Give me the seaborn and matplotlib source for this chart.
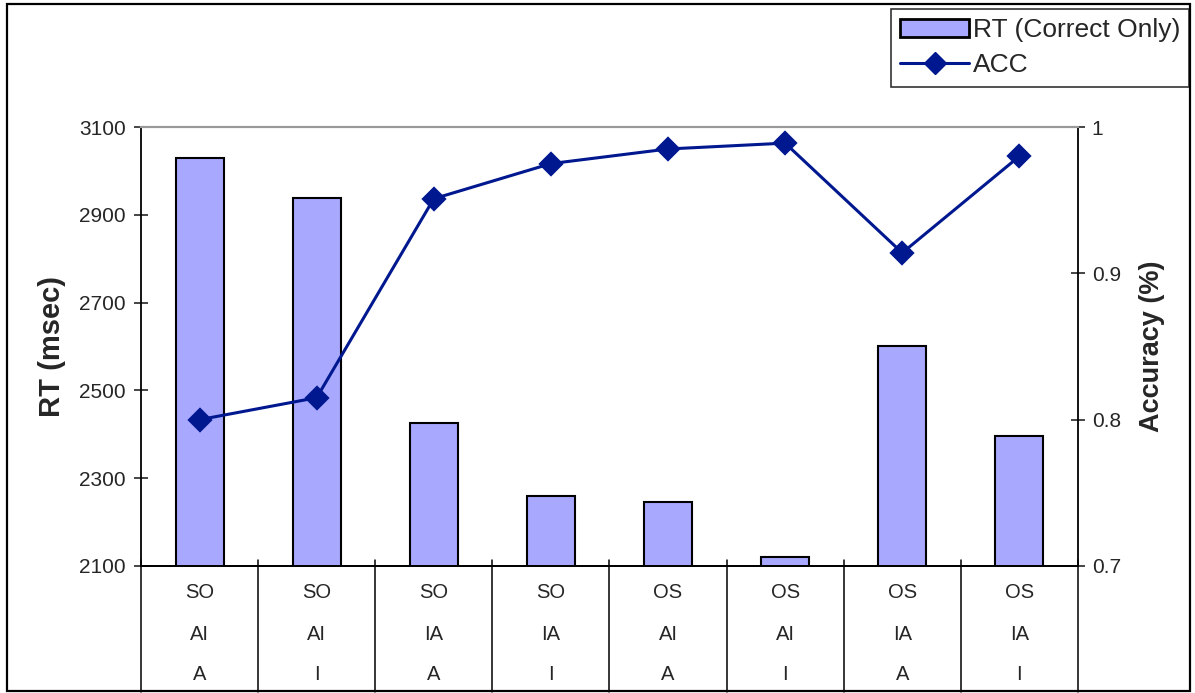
import numpy as np
import pandas as pd
import matplotlib
matplotlib.use("Agg")
import matplotlib.pyplot as plt
import seaborn as sns
from matplotlib.patches import Patch, Rectangle
from matplotlib.lines import Line2D
import matplotlib.transforms as mtransforms

# data
order_lbl = ["SO", "SO", "SO", "SO", "OS", "OS", "OS", "OS"]
type_lbl = ["AI", "AI", "IA", "IA", "AI", "AI", "IA", "IA"]
resp_lbl = ["A", "I", "A", "I", "A", "I", "A", "I"]
rt_ms = [3029, 2938, 2426, 2260, 2246, 2120, 2601, 2396]
acc = [0.800, 0.815, 0.951, 0.975, 0.985, 0.989, 0.914, 0.980]

rt_ticks = [2100, 2300, 2500, 2700, 2900, 3100]
acc_ticks = [0.7, 0.8, 0.9, 1.0]
acc_tick_lbl = ["0.7", "0.8", "0.9", "1"]

bar_color = "#A8A8FF"
line_color = "#00188F"

df = pd.DataFrame({
    "cond": ["-".join(t) for t in zip(order_lbl, type_lbl, resp_lbl)],
    "rt": rt_ms,
    "acc": acc,
})

sns.set_style("white")
plt.rcParams["font.family"] = ["Liberation Sans", "DejaVu Sans"]

fig = plt.figure(figsize=(11.95, 6.93), dpi=100)
ax = fig.add_axes([0.118, 0.1833, 0.784, 0.6334])

sns.barplot(data=df, x="cond", y="rt", ax=ax, color=bar_color, width=0.41,
            edgecolor="black", linewidth=1.5, saturation=1)
ax.set_ylim(2100, 3100)
ax.set_yticks(rt_ticks)
ax.set_xlim(-0.5, len(df) - 0.5)

ax2 = ax.twinx()
sns.pointplot(data=df, x="cond", y="acc", ax=ax2, color=line_color,
              markers="D", markersize=11, linewidth=2.2)
ax2.set_ylim(0.7, 1.0)
ax2.set_yticks(acc_ticks)
ax2.set_yticklabels(acc_tick_lbl)
ax2.set_xlim(-0.5, len(df) - 0.5)

# axis look
for a in (ax, ax2):
    for s in a.spines.values():
        s.set_color("black")
        s.set_linewidth(1.3)
    a.spines["top"].set_color("#999999")
    a.spines["top"].set_linewidth(1.5)
    a.set_xlabel("")
    a.tick_params(axis="x", length=0, labelbottom=False)
ax2.spines["left"].set_visible(False)
ax.spines["right"].set_visible(False)

ax.tick_params(axis="y", direction="inout", length=10, width=1.2, pad=6, labelsize=15)
ax2.tick_params(axis="y", direction="inout", length=10, width=1.2, pad=5, labelsize=15)

ax.set_ylabel("RT (msec)", fontsize=21, fontweight="bold")
ax.yaxis.set_label_coords(-0.080, 0.5)
ax2.set_ylabel("Accuracy (%)", fontsize=19.5, fontweight="bold", rotation=90)
ax2.yaxis.set_label_coords(1.065, 0.5)

# multi-level category labels below the axis
trans = mtransforms.blended_transform_factory(ax.transData, ax.transAxes)
rows = [order_lbl, type_lbl, resp_lbl]
row_y = [-0.0615, -0.155, -0.248]
for labels, yy in zip(rows, row_y):
    for i, lab in enumerate(labels):
        ax.text(i, yy, lab, transform=trans, ha="center", va="center", fontsize=14.5)
for i in range(len(df) + 1):
    ax.plot([i - 0.5, i - 0.5], [0.014, -0.286], transform=trans, color="black",
            lw=1.1, clip_on=False)

# legend
handles = [
    Patch(facecolor=bar_color, edgecolor="black", linewidth=2),
    Line2D([], [], color=line_color, lw=2.2, marker="D", markersize=11),
]
leg = fig.legend(handles, ["RT (Correct Only)", "ACC"], loc="upper left",
                 bbox_to_anchor=(0.7456, 0.987), fontsize=19, frameon=True,
                 fancybox=False, edgecolor="black", handlelength=2.6,
                 handletextpad=0.15, borderpad=0.35, labelspacing=0.42,
                 borderaxespad=0)
leg.get_frame().set_linewidth(1.2)

# outer chart border
fig.patches.append(Rectangle((0.0059, 0.003), 0.9899, 0.9912, transform=fig.transFigure,
                             fill=False, edgecolor="black", linewidth=1.6))

fig.savefig("out.png", dpi=100)
